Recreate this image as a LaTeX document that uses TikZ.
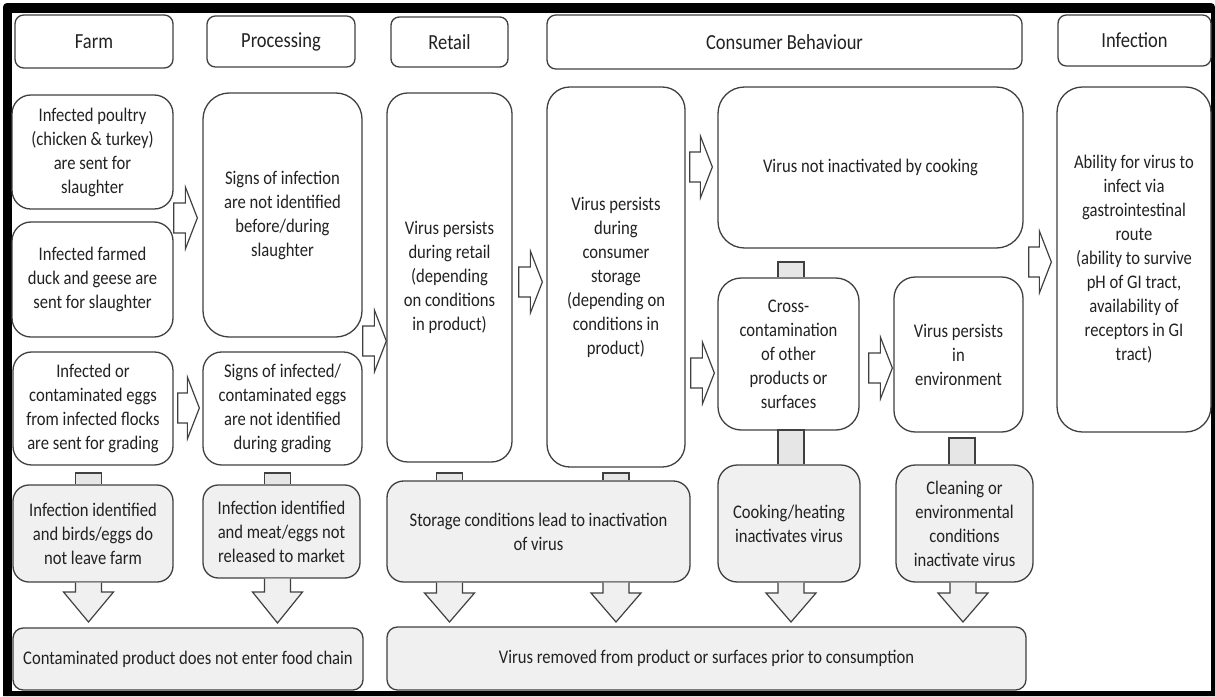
\documentclass[tikz,border=0pt]{standalone}
\usepackage{fontspec}
\setmainfont{Carlito}[FakeStretch=0.86]
\usetikzlibrary{calc}
\definecolor{edgec}{HTML}{404040}
\definecolor{grayfill}{HTML}{F0F0F0}
\definecolor{stubfill}{HTML}{E6E6E6}
\definecolor{txtc}{HTML}{222222}
\tikzset{
  base/.style={draw=edgec, line width=1.3pt, text=txtc, align=center, inner sep=0pt},
  headbox/.style={base, fill=white, font=\fontsize{21.5}{24}\selectfont},
  wbox/.style={base, fill=white, font=\fontsize{19.3}{24}\selectfont},
  gbox/.style={base, fill=grayfill, font=\fontsize{19.3}{24}\selectfont},
  rarrow/.style={draw=edgec, line width=1.2pt, fill=white, line join=miter},
  darrow/.style={draw=edgec, line width=1.2pt, fill=grayfill, line join=miter},
  stubst/.style={draw=edgec, line width=1.2pt, fill=stubfill},
}
\newcommand\bx[7]{%
  \pgfmathsetmacro\bw{#4-#2}\pgfmathsetmacro\bh{#5-#3}%
  \pgfmathsetmacro\br{0.165*min(\bw,\bh)}%
  \node[#6, minimum width=\bw pt, minimum height=\bh pt, rounded corners=\br pt] (#1) at ({(#2+#4)/2},{(#3+#5)/2}) {#7};}
% right block arrow: from, to, y-centre, gap left, gap right
\newcommand\rarr[5]{%
  \draw[rarrow] let \p1=(#1.east), \p2=(#2.west) in
  (\x1+#4pt,{#3-15}) -- (\x2-#5pt-12pt,{#3-15}) -- (\x2-#5pt-12pt,{#3-31}) -- (\x2-#5pt,{#3})
  -- (\x2-#5pt-12pt,{#3+31}) -- (\x2-#5pt-12pt,{#3+15}) -- (\x1+#4pt,{#3+15}) -- cycle;}
% down block arrow: from node, x-centre, head y, tip y
\newcommand\darr[4]{%
  \draw[darrow] let \p1=(#1.south) in
  ({#2-13},\y1) -- ({#2-13},#3) -- ({#2-25},#3) -- (#2,#4) -- ({#2+25},#3) -- ({#2+13},#3) -- ({#2+13},\y1);}
% stub: x-centre, top y, lower node
\newcommand\stub[3]{%
  \draw[stubst] let \p1=(#3.north) in
  ({#1-13},\y1) -- ({#1-13},#2) -- ({#1+13},#2) -- ({#1+13},\y1);}
\begin{document}
\begin{tikzpicture}[x=1pt,y=-1pt]
\useasboundingbox (0,0) rectangle (1215,696);
\fill[white] (0,0) rectangle (1215,696);
\fill[black] [rounded corners=4pt] (3,696) -- (3,3) -- (1215,3) [sharp corners] -- (1215,696) -- cycle;
\fill[white] (12,12.5) rectangle (1211,691);

% headers
\bx{hFarm}{15}{15}{173}{68}{headbox}{Farm}
\bx{hProc}{207}{16}{355}{67}{headbox}{Processing}
\bx{hRet}{391}{17}{508}{67}{headbox}{Retail}
\bx{hCons}{547}{15}{1022}{69}{headbox}{Consumer Behaviour}
\bx{hInf}{1058}{15}{1211}{66}{headbox}{Infection}

% main boxes
\bx{poultry}{12}{95}{173}{209}{wbox}{Infected poultry\\(chicken \& turkey)\\are sent for\\slaughter}
\bx{duck}{12}{222}{173}{337}{wbox}{Infected farmed\\duck and geese are\\sent for slaughter}
\bx{eggs}{13}{352}{173}{465}{wbox}{Infected or\\contaminated eggs\\from infected flocks\\are sent for grading}
\bx{signsInf}{203}{93}{362}{337}{wbox}{Signs of infection\\are not identified\\before/during\\slaughter}
\bx{signsEgg}{203}{352}{362}{465}{wbox}{Signs of infected/\\contaminated eggs\\are not identified\\during grading}
\bx{retail}{387}{93}{512}{462}{wbox}{Virus persists\\during retail\\(depending\\on conditions\\in product)}
\bx{storage}{547}{87}{685}{467}{wbox}{Virus persists\\during\\consumer\\storage\\(depending on\\conditions in\\product)}
\bx{notInact}{718}{87}{1023}{248}{wbox}{Virus not inactivated by cooking}
\bx{cross}{718}{278}{859}{430}{wbox}{Cross-\\contamination\\of other\\products or\\surfaces}
\bx{env}{894}{277}{1023}{432}{wbox}{Virus persists\\in\\environment}
\bx{ability}{1057}{87}{1211}{432}{wbox}{Ability for virus to\\infect via\\gastrointestinal\\route\\(ability to survive\\pH of GI tract,\\availability of\\receptors in GI\\tract)}

% grey outcome boxes
\bx{birds}{13}{485}{173}{582}{gbox}{Infection identified\\and birds/eggs do\\not leave farm}
\bx{meat}{203}{485}{360}{578}{gbox}{Infection identified\\and meat/eggs not\\released to market}
\bx{storCond}{387}{481}{690}{582}{gbox}{Storage conditions lead to inactivation\\of virus}
\bx{cooking}{718}{465}{860}{582}{gbox}{Cooking/heating\\inactivates virus}
\bx{cleaning}{896}{465}{1033}{582}{gbox}{Cleaning or\\environmental\\conditions\\inactivate virus}
\bx{contam}{13}{628}{363}{690}{gbox}{Contaminated product does not enter food chain}
\bx{removed}{387}{627}{1026}{690}{gbox}{Virus removed from product or surfaces prior to consumption}

% right arrows
\rarr{poultry}{signsInf}{218}{0}{5}
\rarr{eggs}{signsEgg}{408}{4}{3}
\rarr{signsInf}{retail}{341}{0}{0}
\rarr{retail}{storage}{282}{6}{4}
\rarr{storage}{notInact}{167}{4}{5}
\rarr{storage}{cross}{373}{5}{3}
\rarr{cross}{env}{368}{9}{1}
\rarr{notInact}{ability}{262}{5}{5}

% stubs
\stub{88.5}{473}{birds}
\stub{277.5}{473}{meat}
\stub{449.5}{473}{storCond}
\stub{616}{473}{storCond}
\stub{791}{262}{cross}
\stub{791}{430}{cooking}
\stub{962}{438}{cleaning}

% down arrows
\darr{birds}{88.5}{592}{622}
\darr{meat}{277.5}{592}{623}
\darr{storCond}{449.5}{593}{622}
\darr{storCond}{616}{593}{622}
\darr{cooking}{791}{593}{622}
\darr{cleaning}{963}{593}{622}
\end{tikzpicture}
\end{document}
